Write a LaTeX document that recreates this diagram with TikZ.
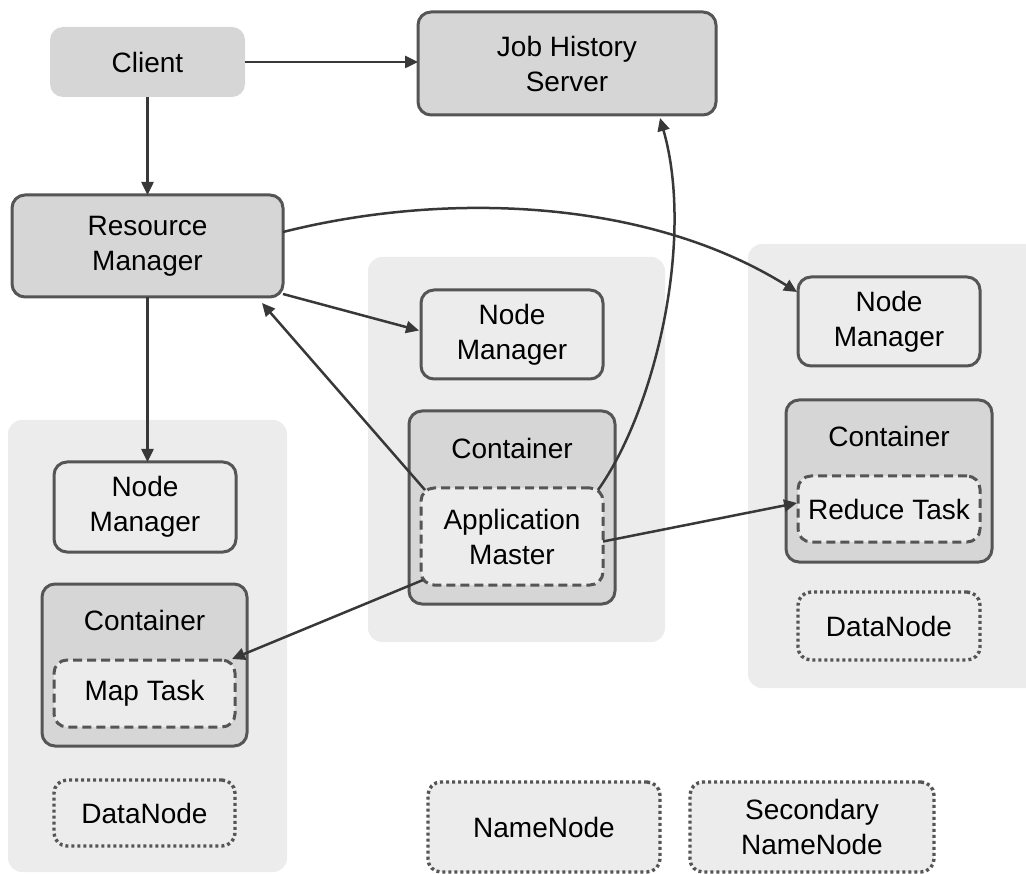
\documentclass[tikz,border=0pt]{standalone}
\usepackage{fontspec}
\setmainfont{Liberation Sans}
\usetikzlibrary{arrows.meta,calc}
\definecolor{boxdark}{HTML}{D6D6D6}
\definecolor{panelgray}{HTML}{ECECEC}
\definecolor{edgegray}{HTML}{555555}
\definecolor{arrowgray}{HTML}{383838}
\newcommand{\pxbox}[7]{%
  \node[#6, minimum width={#4-#2}, minimum height={#5-#3}] (#1) at ({(#2+#4)/2},{(#3+#5)/2}) {#7};}
\begin{document}
\begin{tikzpicture}[x=1pt,y=-1pt,
  font=\fontsize{28}{35}\selectfont,
  base/.style={inner sep=0pt, outer sep=0pt, align=center, text=black, rounded corners=13pt},
  panel/.style={base, fill=panelgray, rounded corners=14pt},
  plainbox/.style={base, fill=boxdark},
  solidbox/.style={base, fill=boxdark, draw=edgegray, line width=3pt},
  nmbox/.style={base, fill=panelgray, draw=edgegray, line width=3pt},
  taskbox/.style={base, fill=panelgray, draw=edgegray, line width=3pt, dash pattern=on 9pt off 5pt},
  dnbox/.style={base, fill=panelgray, draw=edgegray, line width=3.4pt, dash pattern=on 3pt off 3pt},
  lbl/.style={inner sep=0pt, text=black},
  conn/.style={draw=arrowgray, line width=2.5pt, -{Triangle[length=13pt,width=12pt]}}]
\useasboundingbox (0,0) rectangle (1026,874);

% background panels for the three worker hosts
\pxbox{hostA}{8}{420}{287}{872}{panel}{}
\pxbox{hostB}{368}{257}{665}{642}{panel}{}
\pxbox{hostC}{748}{244}{1040}{688}{panel}{}

% top row
\pxbox{client}{50}{27}{245}{97}{plainbox}{Client}
\pxbox{jhs}{418}{12}{716}{115}{solidbox}{Job History\\Server}
\pxbox{rm}{12}{195}{283}{297}{solidbox}{Resource\\Manager}

% host A
\pxbox{nmA}{54}{462}{236}{552}{nmbox}{Node\\Manager}
\pxbox{contA}{42}{584}{247}{746}{solidbox}{}
\node[lbl] (contAlbl) at (144.5,620) {Container};
\pxbox{mapt}{54}{660}{235}{727}{taskbox}{Map Task}
\pxbox{dnA}{54}{780}{235}{846}{dnbox}{DataNode}

% host B
\pxbox{nmB}{421}{290}{603}{379}{nmbox}{Node\\Manager}
\pxbox{contB}{409}{411}{615}{604}{solidbox}{}
\node[lbl] (contBlbl) at (512,448) {Container};
\pxbox{am}{421}{488}{603}{585}{taskbox}{Application\\Master}

% host C
\pxbox{nmC}{798}{277}{980}{366}{nmbox}{Node\\Manager}
\pxbox{contC}{786}{400}{992}{562}{solidbox}{}
\node[lbl] (contClbl) at (889,436) {Container};
\pxbox{redt}{798}{476}{980}{542}{taskbox}{Reduce Task}
\pxbox{dnC}{798}{592}{980}{660}{dnbox}{DataNode}

% HDFS master nodes
\pxbox{nn}{428}{782}{660}{872}{dnbox}{NameNode}
\pxbox{snn}{690}{782}{934}{872}{dnbox}{Secondary\\NameNode}

% connectors
\draw[conn] (client.south) -- (rm.north);
\draw[conn] (client.east) -- (client.east -| jhs.west);
\draw[conn] (rm.south) -- (rm.south |- nmA.north);
\draw[conn] ($(rm.south east)+(0,-3)$) -- ($(nmB.west)+(-2,-4)$);
\draw[conn] ($(rm.east)+(0,-14)$) .. controls (450,190) and (650,200) .. ($(nmC.north west)+(-1,15)$);
\draw[conn] ($(am.north west)+(4,2)$) -- ($(rm.south east)+(-21,6)$);
\draw[conn] ($(am.north east)+(-5,2)$) .. controls (655,410) and (695,240) .. ($(jhs.south east)+(-56,3)$);
\draw[conn] ($(am.east)+(0,5)$) -- ($(redt.west)+(-1,-6)$);
\draw[conn] ($(am.south west)+(2,-5)$) -- ($(mapt.north east)+(-3,-1)$);
\end{tikzpicture}
\end{document}
